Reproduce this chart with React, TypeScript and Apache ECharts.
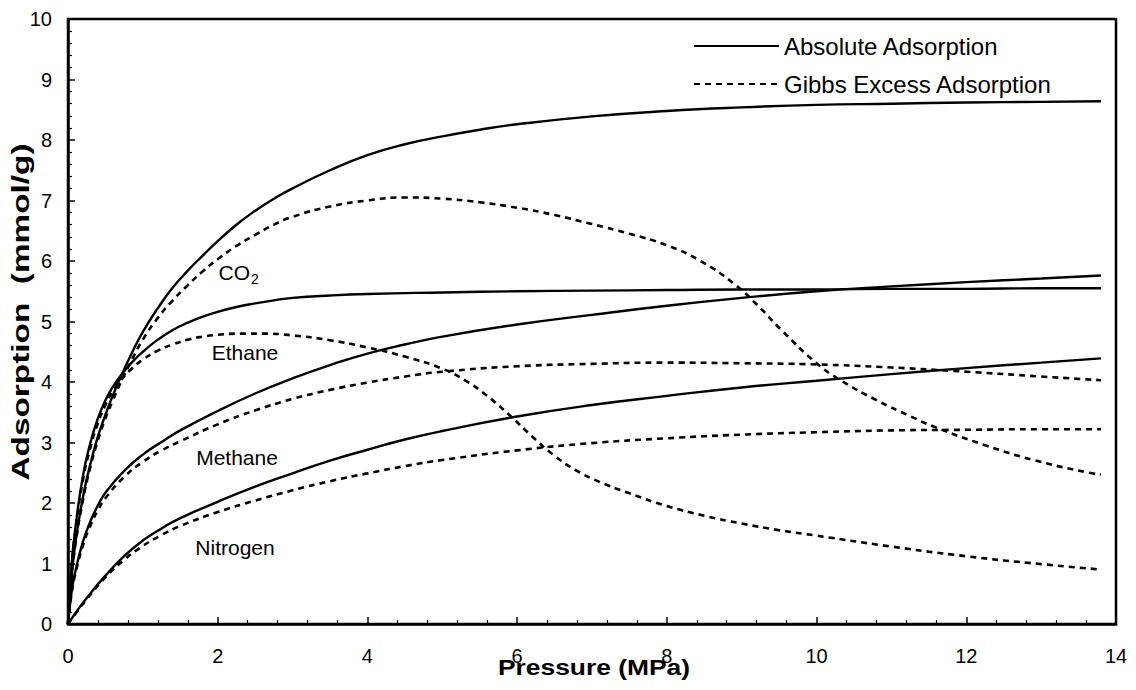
import React, { useEffect, useRef } from "react";
import * as echarts from "echarts";

const ABS = "Absolute Adsorption";
const EXCESS = "Gibbs Excess Adsorption";

const xTicks = [0, 2, 4, 6, 8, 10, 12, 14];
const yTicks = [0, 1, 2, 3, 4, 5, 6, 7, 8, 9, 10];

const co2Absolute = [[0,0],[0.05,0.8],[0.1,1.35],[0.2,2.1],[0.3,2.65],[0.4,3.1],[0.5,3.46],[0.6,3.78],[0.7,4.07],[0.85,4.47],[1,4.83],[1.2,5.22],[1.4,5.56],[1.6,5.84],[1.8,6.09],[2,6.33],[2.25,6.6],[2.5,6.83],[2.75,7.03],[3,7.2],[3.5,7.5],[4,7.75],[4.5,7.93],[5,8.06],[5.5,8.17],[6,8.26],[7,8.39],[8,8.48],[9,8.54],[10,8.58],[11,8.6],[12,8.62],[13,8.63],[13.8,8.64]];
const co2Excess = [[0,0],[0.05,0.78],[0.1,1.32],[0.2,2.05],[0.3,2.6],[0.4,3.04],[0.5,3.4],[0.6,3.7],[0.7,3.98],[0.85,4.36],[1,4.7],[1.2,5.06],[1.4,5.35],[1.6,5.6],[1.8,5.83],[2,6.03],[2.25,6.25],[2.5,6.43],[2.75,6.6],[3,6.73],[3.5,6.9],[4,7.0],[4.5,7.05],[5,7.03],[5.5,6.97],[6,6.88],[6.5,6.76],[7,6.61],[7.5,6.45],[8,6.26],[8.45,6.0],[8.9,5.62],[9.25,5.22],[9.52,4.87],[10,4.31],[10.32,4.03],[10.8,3.7],[11.26,3.43],[11.57,3.26],[12.24,2.96],[12.9,2.71],[13.64,2.5],[13.8,2.47]];
const ethaneAbsolute = [[0,0],[0.05,1.0],[0.1,1.6],[0.2,2.45],[0.3,3.0],[0.4,3.4],[0.5,3.7],[0.6,3.92],[0.7,4.1],[0.85,4.32],[1,4.5],[1.2,4.7],[1.4,4.86],[1.6,4.98],[1.8,5.08],[2,5.16],[2.25,5.24],[2.5,5.3],[2.75,5.35],[3,5.39],[3.5,5.43],[4,5.455],[5,5.48],[6,5.5],[7,5.51],[8,5.52],[9,5.53],[10,5.53],[11,5.54],[12,5.54],[13,5.55],[13.8,5.55]];
const ethaneExcess = [[0,0],[0.05,0.97],[0.1,1.55],[0.2,2.38],[0.3,2.92],[0.4,3.32],[0.5,3.62],[0.6,3.85],[0.7,4.02],[0.85,4.22],[1,4.37],[1.2,4.52],[1.4,4.62],[1.6,4.7],[1.8,4.75],[2,4.78],[2.3,4.8],[2.6,4.8],[3,4.77],[3.5,4.69],[4,4.57],[4.5,4.42],[5,4.22],[5.3,4.03],[5.6,3.77],[5.9,3.45],[6.2,3.1],[6.5,2.78],[6.8,2.53],[7.1,2.35],[7.5,2.16],[8,1.95],[8.5,1.79],[9,1.66],[9.5,1.55],[10,1.46],[11,1.28],[12,1.12],[13,0.99],[13.8,0.9]];
const methaneAbsolute = [[0,0],[0.05,0.55],[0.1,0.88],[0.2,1.36],[0.3,1.7],[0.4,1.96],[0.5,2.17],[0.75,2.53],[1,2.8],[1.25,3.01],[1.5,3.2],[2,3.52],[2.5,3.81],[3,4.06],[3.5,4.28],[4,4.47],[4.5,4.62],[5,4.75],[6,4.95],[7,5.11],[8,5.26],[9,5.39],[10,5.5],[11,5.58],[12,5.65],[13,5.71],[13.8,5.76]];
const methaneExcess = [[0,0],[0.05,0.52],[0.1,0.84],[0.2,1.3],[0.3,1.63],[0.4,1.88],[0.5,2.08],[0.75,2.43],[1,2.68],[1.25,2.87],[1.5,3.02],[2,3.3],[2.5,3.53],[3,3.72],[3.5,3.87],[4,3.99],[4.5,4.09],[5,4.17],[6,4.26],[7,4.3],[8,4.32],[9,4.31],[10,4.29],[11,4.24],[12,4.17],[13,4.09],[13.8,4.03]];
const nitrogenAbsolute = [[0,0],[0.1,0.18],[0.25,0.43],[0.5,0.8],[0.75,1.12],[1,1.38],[1.25,1.58],[1.5,1.75],[2,2.02],[2.5,2.27],[3,2.49],[3.5,2.7],[4,2.88],[4.5,3.05],[5,3.19],[6,3.43],[7,3.62],[8,3.77],[9,3.91],[10,4.02],[11,4.13],[12,4.23],[13,4.32],[13.8,4.39]];
const nitrogenExcess = [[0,0],[0.1,0.17],[0.25,0.41],[0.5,0.77],[0.75,1.06],[1,1.29],[1.25,1.47],[1.5,1.62],[2,1.85],[2.5,2.04],[3,2.21],[3.5,2.36],[4,2.49],[4.5,2.61],[5,2.71],[6,2.87],[7,2.99],[8,3.07],[9,3.13],[10,3.17],[11,3.2],[12,3.21],[13,3.22],[13.8,3.22]];

const FONT = "'Liberation Sans', Arial, sans-serif";

export default function App() {
  const ref = useRef<HTMLDivElement>(null);
  useEffect(() => {
    document.body.style.margin = "0";
    const chart = echarts.init(ref.current!, null, { renderer: "svg" });
    const mk = (data: number[][], dashed: boolean) => ({
      name: dashed ? EXCESS : ABS,
      type: "line",
      data,
      smooth: 0.5,
      symbol: "none",
      showSymbol: false,
      lineStyle: { color: "#000", width: dashed ? 2.6 : 2.4, type: dashed ? [6, 5] : "solid" },
      itemStyle: { color: "#000" },
      z: 3,
    });
    chart.setOption({
      animation: false,
      backgroundColor: "#fff",
      textStyle: { fontFamily: FONT },
      grid: {
        left: 68, right: 20, top: 19, bottom: 66,
        outerBoundsMode: "none",
        containLabel: false,
        show: true, borderColor: "#000", borderWidth: 2.5, backgroundColor: "transparent",
      },
      legend: {
        orient: "vertical",
        left: 688,
        top: 29,
        itemWidth: 85,
        itemHeight: 14,
        itemGap: 14,
        selectedMode: false,
        itemStyle: { opacity: 0 },
        textStyle: { fontSize: 24, color: "#000", fontFamily: FONT },
        data: [ABS, EXCESS],
      },
      xAxis: {
        type: "value",
        min: xTicks[0],
        max: xTicks[xTicks.length - 1],
        interval: 2,
        axisLine: { show: true, lineStyle: { color: "#000", width: 2.5 } },
        axisTick: { show: true, inside: true, length: 7, lineStyle: { color: "#000", width: 1.5 } },
        minorTick: { show: true, splitNumber: 5, length: 4, lineStyle: { color: "#000", width: 1.2 } },
        splitLine: { show: false },
        axisLabel: { fontSize: 20, color: "#000", margin: 22, fontFamily: FONT },
      },
      yAxis: {
        type: "value",
        min: yTicks[0],
        max: yTicks[yTicks.length - 1],
        interval: 1,
        axisLine: { show: true, lineStyle: { color: "#000", width: 2.5 } },
        axisTick: { show: true, inside: true, length: 7, lineStyle: { color: "#000", width: 1.5 } },
        minorTick: { show: true, splitNumber: 5, length: 4, lineStyle: { color: "#000", width: 1.2 } },
        splitLine: { show: false },
        axisLabel: { fontSize: 20, color: "#000", margin: 16, fontFamily: FONT },
      },
      graphic: [
        { type: "text", x: 594, y: 667, scaleX: 1.2, style: { text: "Pressure (MPa)", fill: "#000", font: `bold 22px ${FONT}`, align: "center", verticalAlign: "middle" } },
        { type: "text", x: 21, y: 312, rotation: Math.PI / 2, scaleX: 1.39, style: { text: "Adsorption  (mmol/g)", fill: "#000", font: `bold 24px ${FONT}`, align: "center", verticalAlign: "middle" } },
        { type: "text", x: 250, y: 272, style: { text: "CO", fill: "#000", font: `21px ${FONT}`, align: "right", verticalAlign: "middle" } },
        { type: "text", x: 251, y: 279, style: { text: "2", fill: "#000", font: `14px ${FONT}`, align: "left", verticalAlign: "middle" } },
        { type: "text", x: 245, y: 352, style: { text: "Ethane", fill: "#000", font: `21px ${FONT}`, align: "center", verticalAlign: "middle" } },
        { type: "text", x: 237, y: 457, style: { text: "Methane", fill: "#000", font: `21px ${FONT}`, align: "center", verticalAlign: "middle" } },
        { type: "text", x: 235, y: 547, style: { text: "Nitrogen", fill: "#000", font: `21px ${FONT}`, align: "center", verticalAlign: "middle" } },
      ],
      series: [
        mk(co2Absolute, false),
        mk(co2Excess, true),
        mk(ethaneAbsolute, false),
        mk(ethaneExcess, true),
        mk(methaneAbsolute, false),
        mk(methaneExcess, true),
        mk(nitrogenAbsolute, false),
        mk(nitrogenExcess, true),
      ],
    });
    return () => chart.dispose();
  }, []);
  return <div ref={ref} style={{ width: 1136, height: 690 }} />;
}
